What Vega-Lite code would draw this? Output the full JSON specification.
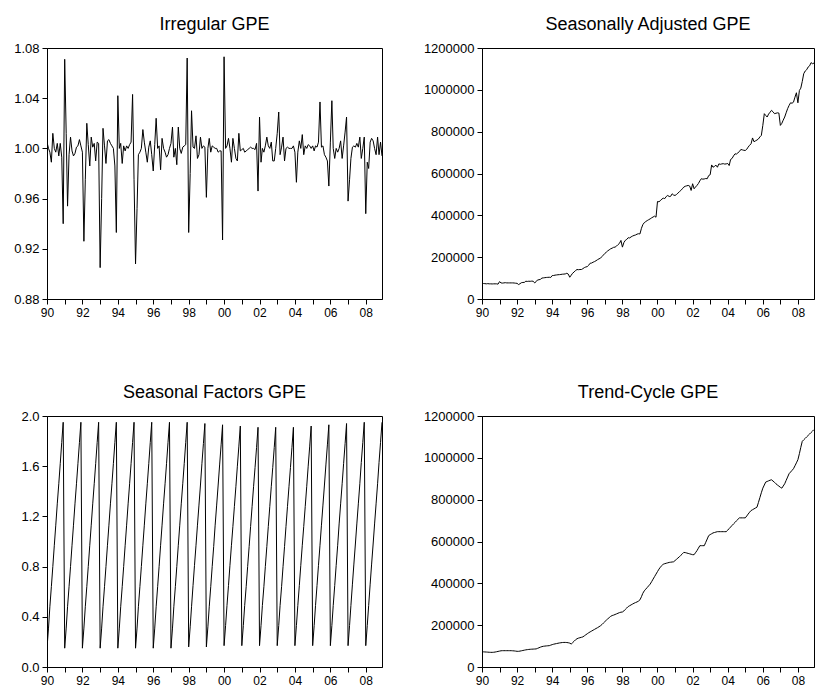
{
"$schema":"https://vega.github.io/schema/vega-lite/v6.json",
"autosize":{"type":"pad"},
"padding":{"left":13,"top":15,"right":0,"bottom":0},
"bounds":"flush",
"columns":2,
"spacing":{"row":117,"column":100},
"config":{
"font":"Liberation Sans",
"view":{"stroke":"black","strokeWidth":1},
"axis":{"grid":false,"domainColor":"black","domainWidth":1,"tickColor":"black","tickWidth":1,"tickSize":5,"labelColor":"black","labelFont":"Liberation Sans","labelFontSize":12,"labelPadding":3,"labelFlush":false,"labelOverlap":false,"title":null},
"axisY":{"labelFontSize":13},
"title":{"font":"Liberation Sans","fontSize":18,"fontWeight":"normal","color":"black","anchor":"middle","frame":"group","offset":8}
},
"data":{"values":[
{"d":"1990-01","i":1.005,"s":75000,"f":0.15,"t":73000},
{"d":"1990-02","i":1.000,"s":74000,"f":0.31,"t":72500},
{"d":"1990-03","i":0.997,"s":73500,"f":0.48,"t":72000},
{"d":"1990-04","i":0.989,"s":72500,"f":0.64,"t":71500},
{"d":"1990-05","i":1.012,"s":73500,"f":0.80,"t":71000},
{"d":"1990-06","i":1.000,"s":72500,"f":0.97,"t":70500},
{"d":"1990-07","i":0.997,"s":72500,"f":1.13,"t":70000},
{"d":"1990-08","i":1.004,"s":72000,"f":1.30,"t":70000},
{"d":"1990-09","i":0.994,"s":72500,"f":1.46,"t":70500},
{"d":"1990-10","i":1.004,"s":72500,"f":1.62,"t":71500},
{"d":"1990-11","i":0.993,"s":72500,"f":1.79,"t":73000},
{"d":"1990-12","i":0.940,"s":71000,"f":1.95,"t":74500},
{"d":"1991-01","i":1.071,"s":83000,"f":0.15,"t":76000},
{"d":"1991-02","i":1.012,"s":77000,"f":0.31,"t":77500},
{"d":"1991-03","i":0.954,"s":76000,"f":0.48,"t":78000},
{"d":"1991-04","i":0.995,"s":77000,"f":0.64,"t":78000},
{"d":"1991-05","i":1.009,"s":78000,"f":0.80,"t":78000},
{"d":"1991-06","i":0.998,"s":77000,"f":0.97,"t":78000},
{"d":"1991-07","i":0.994,"s":77000,"f":1.13,"t":78000},
{"d":"1991-08","i":0.996,"s":77000,"f":1.30,"t":78000},
{"d":"1991-09","i":1.001,"s":77000,"f":1.46,"t":78000},
{"d":"1991-10","i":1.002,"s":77000,"f":1.62,"t":77500},
{"d":"1991-11","i":1.007,"s":76500,"f":1.79,"t":77000},
{"d":"1991-12","i":1.002,"s":75500,"f":1.95,"t":76000},
{"d":"1992-01","i":0.997,"s":75000,"f":0.15,"t":75000},
{"d":"1992-02","i":0.926,"s":69000,"f":0.31,"t":75000},
{"d":"1992-03","i":0.975,"s":73000,"f":0.48,"t":76000},
{"d":"1992-04","i":1.020,"s":78000,"f":0.64,"t":77500},
{"d":"1992-05","i":1.003,"s":79000,"f":0.80,"t":79000},
{"d":"1992-06","i":0.986,"s":79500,"f":0.97,"t":80500},
{"d":"1992-07","i":1.009,"s":85000,"f":1.13,"t":82000},
{"d":"1992-08","i":1.001,"s":84000,"f":1.30,"t":83000},
{"d":"1992-09","i":1.004,"s":85000,"f":1.46,"t":84000},
{"d":"1992-10","i":0.990,"s":84500,"f":1.62,"t":84700},
{"d":"1992-11","i":1.005,"s":85500,"f":1.79,"t":85200},
{"d":"1992-12","i":1.004,"s":85000,"f":1.95,"t":85600},
{"d":"1993-01","i":0.905,"s":77000,"f":0.15,"t":86000},
{"d":"1993-02","i":0.960,"s":83000,"f":0.31,"t":86500},
{"d":"1993-03","i":1.016,"s":91000,"f":0.48,"t":89000},
{"d":"1993-04","i":1.002,"s":92000,"f":0.64,"t":92000},
{"d":"1993-05","i":0.988,"s":94000,"f":0.80,"t":95000},
{"d":"1993-06","i":1.006,"s":100000,"f":0.97,"t":97500},
{"d":"1993-07","i":1.007,"s":101000,"f":1.13,"t":99000},
{"d":"1993-08","i":1.004,"s":102000,"f":1.30,"t":100000},
{"d":"1993-09","i":1.002,"s":103000,"f":1.46,"t":100800},
{"d":"1993-10","i":1.000,"s":103500,"f":1.62,"t":101500},
{"d":"1993-11","i":0.986,"s":104000,"f":1.79,"t":102000},
{"d":"1993-12","i":0.933,"s":103000,"f":1.95,"t":104500},
{"d":"1994-01","i":1.042,"s":112000,"f":0.15,"t":107000},
{"d":"1994-02","i":1.000,"s":112500,"f":0.31,"t":109000},
{"d":"1994-03","i":1.004,"s":114000,"f":0.48,"t":110500},
{"d":"1994-04","i":0.988,"s":115000,"f":0.64,"t":112000},
{"d":"1994-05","i":1.002,"s":116000,"f":0.80,"t":113500},
{"d":"1994-06","i":0.998,"s":116500,"f":0.97,"t":115000},
{"d":"1994-07","i":1.002,"s":117500,"f":1.13,"t":116000},
{"d":"1994-08","i":1.000,"s":118500,"f":1.30,"t":117000},
{"d":"1994-09","i":1.003,"s":119000,"f":1.46,"t":117500},
{"d":"1994-10","i":1.005,"s":120000,"f":1.62,"t":117500},
{"d":"1994-11","i":1.043,"s":123000,"f":1.79,"t":117000},
{"d":"1994-12","i":0.975,"s":119000,"f":1.95,"t":116000},
{"d":"1995-01","i":0.908,"s":104000,"f":0.15,"t":114000},
{"d":"1995-02","i":0.952,"s":114000,"f":0.31,"t":110000},
{"d":"1995-03","i":0.995,"s":123000,"f":0.48,"t":116000},
{"d":"1995-04","i":0.997,"s":129000,"f":0.64,"t":123000},
{"d":"1995-05","i":1.000,"s":136000,"f":0.80,"t":130000},
{"d":"1995-06","i":1.015,"s":141000,"f":0.97,"t":135000},
{"d":"1995-07","i":1.005,"s":140000,"f":1.13,"t":138000},
{"d":"1995-08","i":0.997,"s":141000,"f":1.30,"t":140000},
{"d":"1995-09","i":0.989,"s":141000,"f":1.46,"t":142000},
{"d":"1995-10","i":1.001,"s":145000,"f":1.62,"t":144000},
{"d":"1995-11","i":1.006,"s":150000,"f":1.79,"t":149000},
{"d":"1995-12","i":0.995,"s":153000,"f":1.95,"t":154000},
{"d":"1996-01","i":0.982,"s":155000,"f":0.15,"t":159000},
{"d":"1996-02","i":1.003,"s":162000,"f":0.31,"t":164000},
{"d":"1996-03","i":1.024,"s":171000,"f":0.48,"t":168000},
{"d":"1996-04","i":1.000,"s":172000,"f":0.64,"t":172000},
{"d":"1996-05","i":1.002,"s":176000,"f":0.80,"t":176000},
{"d":"1996-06","i":0.983,"s":179000,"f":0.97,"t":180000},
{"d":"1996-07","i":1.008,"s":183000,"f":1.13,"t":184000},
{"d":"1996-08","i":1.000,"s":188000,"f":1.30,"t":188000},
{"d":"1996-09","i":0.997,"s":192000,"f":1.46,"t":192500},
{"d":"1996-10","i":0.993,"s":195000,"f":1.62,"t":197000},
{"d":"1996-11","i":0.995,"s":203000,"f":1.79,"t":203000},
{"d":"1996-12","i":1.000,"s":210000,"f":1.95,"t":210000},
{"d":"1997-01","i":1.004,"s":218000,"f":0.15,"t":217000},
{"d":"1997-02","i":1.017,"s":224000,"f":0.31,"t":224000},
{"d":"1997-03","i":0.993,"s":230000,"f":0.48,"t":230000},
{"d":"1997-04","i":1.000,"s":235000,"f":0.64,"t":236000},
{"d":"1997-05","i":0.987,"s":240000,"f":0.80,"t":242000},
{"d":"1997-06","i":1.017,"s":243000,"f":0.97,"t":246000},
{"d":"1997-07","i":1.000,"s":247000,"f":1.13,"t":248000},
{"d":"1997-08","i":0.996,"s":248000,"f":1.30,"t":251000},
{"d":"1997-09","i":1.001,"s":253000,"f":1.46,"t":254000},
{"d":"1997-10","i":1.002,"s":260000,"f":1.62,"t":257000},
{"d":"1997-11","i":1.003,"s":266000,"f":1.79,"t":260000},
{"d":"1997-12","i":1.072,"s":280000,"f":1.95,"t":262000},
{"d":"1998-01","i":0.933,"s":248000,"f":0.16,"t":263000},
{"d":"1998-02","i":0.980,"s":270000,"f":0.32,"t":268000},
{"d":"1998-03","i":1.030,"s":280000,"f":0.48,"t":275000},
{"d":"1998-04","i":1.001,"s":285000,"f":0.65,"t":282000},
{"d":"1998-05","i":1.000,"s":293000,"f":0.81,"t":289000},
{"d":"1998-06","i":1.010,"s":292000,"f":0.97,"t":293000},
{"d":"1998-07","i":0.992,"s":297000,"f":1.13,"t":297000},
{"d":"1998-08","i":0.995,"s":301000,"f":1.29,"t":301000},
{"d":"1998-09","i":1.009,"s":304000,"f":1.45,"t":305000},
{"d":"1998-10","i":1.000,"s":306000,"f":1.62,"t":308000},
{"d":"1998-11","i":1.002,"s":310000,"f":1.78,"t":311000},
{"d":"1998-12","i":1.001,"s":312000,"f":1.94,"t":315000},
{"d":"1999-01","i":0.961,"s":311000,"f":0.16,"t":321000},
{"d":"1999-02","i":1.000,"s":338000,"f":0.32,"t":336000},
{"d":"1999-03","i":1.008,"s":355000,"f":0.48,"t":352000},
{"d":"1999-04","i":0.997,"s":365000,"f":0.64,"t":364000},
{"d":"1999-05","i":1.002,"s":370000,"f":0.80,"t":372000},
{"d":"1999-06","i":1.001,"s":375000,"f":0.96,"t":380000},
{"d":"1999-07","i":1.000,"s":379000,"f":1.13,"t":388000},
{"d":"1999-08","i":1.000,"s":383000,"f":1.29,"t":396000},
{"d":"1999-09","i":0.997,"s":388000,"f":1.45,"t":408000},
{"d":"1999-10","i":0.998,"s":392000,"f":1.61,"t":420000},
{"d":"1999-11","i":0.998,"s":396000,"f":1.77,"t":432000},
{"d":"1999-12","i":0.927,"s":391000,"f":1.93,"t":444000},
{"d":"2000-01","i":1.073,"s":466000,"f":0.17,"t":456000},
{"d":"2000-02","i":1.000,"s":465000,"f":0.33,"t":468000},
{"d":"2000-03","i":1.002,"s":470000,"f":0.49,"t":477000},
{"d":"2000-04","i":1.008,"s":478000,"f":0.65,"t":485000},
{"d":"2000-05","i":1.000,"s":482000,"f":0.81,"t":492000},
{"d":"2000-06","i":0.989,"s":480000,"f":0.97,"t":494000},
{"d":"2000-07","i":1.008,"s":490000,"f":1.12,"t":496000},
{"d":"2000-08","i":1.000,"s":495000,"f":1.28,"t":498000},
{"d":"2000-09","i":0.992,"s":490000,"f":1.44,"t":500000},
{"d":"2000-10","i":0.990,"s":491000,"f":1.60,"t":501000},
{"d":"2000-11","i":1.012,"s":503000,"f":1.76,"t":502000},
{"d":"2000-12","i":0.998,"s":497000,"f":1.92,"t":503000},
{"d":"2001-01","i":0.999,"s":495000,"f":0.17,"t":509000},
{"d":"2001-02","i":1.000,"s":500000,"f":0.33,"t":515000},
{"d":"2001-03","i":0.997,"s":506000,"f":0.49,"t":521000},
{"d":"2001-04","i":0.998,"s":513000,"f":0.64,"t":527000},
{"d":"2001-05","i":0.999,"s":519000,"f":0.80,"t":534000},
{"d":"2001-06","i":1.000,"s":527000,"f":0.96,"t":541000},
{"d":"2001-07","i":1.001,"s":535000,"f":1.12,"t":548000},
{"d":"2001-08","i":1.000,"s":539000,"f":1.28,"t":547000},
{"d":"2001-09","i":1.000,"s":541000,"f":1.44,"t":545000},
{"d":"2001-10","i":0.999,"s":543000,"f":1.59,"t":543000},
{"d":"2001-11","i":1.004,"s":540000,"f":1.75,"t":541000},
{"d":"2001-12","i":0.966,"s":519000,"f":1.91,"t":539000},
{"d":"2002-01","i":1.025,"s":551000,"f":0.17,"t":537000},
{"d":"2002-02","i":0.989,"s":527000,"f":0.33,"t":537000},
{"d":"2002-03","i":1.000,"s":535000,"f":0.49,"t":546000},
{"d":"2002-04","i":0.997,"s":543000,"f":0.64,"t":556000},
{"d":"2002-05","i":1.002,"s":552000,"f":0.80,"t":568000},
{"d":"2002-06","i":1.009,"s":565000,"f":0.96,"t":580000},
{"d":"2002-07","i":1.002,"s":575000,"f":1.12,"t":580000},
{"d":"2002-08","i":1.000,"s":573000,"f":1.28,"t":580000},
{"d":"2002-09","i":1.005,"s":574000,"f":1.44,"t":580000},
{"d":"2002-10","i":0.990,"s":576000,"f":1.59,"t":596000},
{"d":"2002-11","i":0.990,"s":575000,"f":1.75,"t":612000},
{"d":"2002-12","i":1.000,"s":590000,"f":1.91,"t":628000},
{"d":"2003-01","i":1.012,"s":594000,"f":0.17,"t":633000},
{"d":"2003-02","i":1.029,"s":641000,"f":0.33,"t":637000},
{"d":"2003-03","i":0.995,"s":630000,"f":0.49,"t":641000},
{"d":"2003-04","i":1.001,"s":634000,"f":0.64,"t":643000},
{"d":"2003-05","i":1.009,"s":640000,"f":0.80,"t":645000},
{"d":"2003-06","i":0.990,"s":630000,"f":0.96,"t":647000},
{"d":"2003-07","i":1.000,"s":646000,"f":1.12,"t":647000},
{"d":"2003-08","i":1.001,"s":644000,"f":1.28,"t":647000},
{"d":"2003-09","i":1.000,"s":646000,"f":1.44,"t":647000},
{"d":"2003-10","i":1.000,"s":647000,"f":1.59,"t":647000},
{"d":"2003-11","i":1.000,"s":645000,"f":1.75,"t":647000},
{"d":"2003-12","i":1.002,"s":646000,"f":1.91,"t":647000},
{"d":"2004-01","i":0.997,"s":648000,"f":0.17,"t":654000},
{"d":"2004-02","i":0.973,"s":638000,"f":0.33,"t":662000},
{"d":"2004-03","i":0.997,"s":667000,"f":0.49,"t":669000},
{"d":"2004-04","i":1.006,"s":672000,"f":0.65,"t":677000},
{"d":"2004-05","i":1.000,"s":684000,"f":0.81,"t":684000},
{"d":"2004-06","i":1.011,"s":694000,"f":0.97,"t":691000},
{"d":"2004-07","i":0.995,"s":693000,"f":1.12,"t":699000},
{"d":"2004-08","i":1.002,"s":699000,"f":1.28,"t":706000},
{"d":"2004-09","i":1.000,"s":705000,"f":1.44,"t":713000},
{"d":"2004-10","i":1.003,"s":715000,"f":1.60,"t":713000},
{"d":"2004-11","i":1.002,"s":713000,"f":1.76,"t":713000},
{"d":"2004-12","i":1.000,"s":711000,"f":1.92,"t":713000},
{"d":"2005-01","i":1.002,"s":710000,"f":0.17,"t":713000},
{"d":"2005-02","i":0.998,"s":716000,"f":0.33,"t":722000},
{"d":"2005-03","i":1.002,"s":726000,"f":0.49,"t":731000},
{"d":"2005-04","i":1.001,"s":735000,"f":0.65,"t":740000},
{"d":"2005-05","i":1.005,"s":742000,"f":0.81,"t":748000},
{"d":"2005-06","i":1.037,"s":770000,"f":0.97,"t":752000},
{"d":"2005-07","i":1.001,"s":752000,"f":1.13,"t":756000},
{"d":"2005-08","i":1.002,"s":756000,"f":1.29,"t":760000},
{"d":"2005-09","i":0.995,"s":760000,"f":1.45,"t":764000},
{"d":"2005-10","i":0.993,"s":765000,"f":1.61,"t":786000},
{"d":"2005-11","i":0.990,"s":775000,"f":1.77,"t":810000},
{"d":"2005-12","i":0.970,"s":782000,"f":1.93,"t":833000},
{"d":"2006-01","i":1.005,"s":830000,"f":0.17,"t":855000},
{"d":"2006-02","i":1.038,"s":886000,"f":0.33,"t":870000},
{"d":"2006-03","i":1.000,"s":878000,"f":0.49,"t":884000},
{"d":"2006-04","i":0.992,"s":870000,"f":0.65,"t":887000},
{"d":"2006-05","i":1.000,"s":884000,"f":0.81,"t":890000},
{"d":"2006-06","i":0.997,"s":893000,"f":0.97,"t":893000},
{"d":"2006-07","i":1.000,"s":902000,"f":1.14,"t":895000},
{"d":"2006-08","i":1.006,"s":895000,"f":1.30,"t":889000},
{"d":"2006-09","i":0.992,"s":886000,"f":1.46,"t":883000},
{"d":"2006-10","i":1.002,"s":888000,"f":1.62,"t":876000},
{"d":"2006-11","i":1.013,"s":890000,"f":1.78,"t":870000},
{"d":"2006-12","i":1.025,"s":889000,"f":1.94,"t":865000},
{"d":"2007-01","i":0.958,"s":830000,"f":0.17,"t":859000},
{"d":"2007-02","i":0.975,"s":840000,"f":0.33,"t":855000},
{"d":"2007-03","i":0.992,"s":855000,"f":0.49,"t":865000},
{"d":"2007-04","i":1.001,"s":870000,"f":0.66,"t":876000},
{"d":"2007-05","i":1.002,"s":890000,"f":0.82,"t":892000},
{"d":"2007-06","i":1.001,"s":910000,"f":0.98,"t":908000},
{"d":"2007-07","i":1.004,"s":925000,"f":1.14,"t":924000},
{"d":"2007-08","i":1.001,"s":938000,"f":1.30,"t":932000},
{"d":"2007-09","i":1.009,"s":936000,"f":1.46,"t":940000},
{"d":"2007-10","i":0.992,"s":941000,"f":1.63,"t":948000},
{"d":"2007-11","i":1.000,"s":965000,"f":1.79,"t":962000},
{"d":"2007-12","i":1.009,"s":986000,"f":1.95,"t":976000},
{"d":"2008-01","i":0.948,"s":938000,"f":0.17,"t":991000},
{"d":"2008-02","i":0.989,"s":997000,"f":0.33,"t":1020000},
{"d":"2008-03","i":0.984,"s":1008000,"f":0.49,"t":1050000},
{"d":"2008-04","i":1.005,"s":1040000,"f":0.66,"t":1079000},
{"d":"2008-05","i":1.008,"s":1077000,"f":0.82,"t":1086000},
{"d":"2008-06","i":1.006,"s":1090000,"f":0.98,"t":1093000},
{"d":"2008-07","i":1.000,"s":1096000,"f":1.14,"t":1100000},
{"d":"2008-08","i":0.995,"s":1109000,"f":1.30,"t":1107000},
{"d":"2008-09","i":1.009,"s":1115000,"f":1.46,"t":1114000},
{"d":"2008-10","i":0.995,"s":1130000,"f":1.63,"t":1121000},
{"d":"2008-11","i":1.005,"s":1125000,"f":1.79,"t":1128000},
{"d":"2008-12","i":0.994,"s":1128000,"f":1.95,"t":1135000}
]},
"concat":[
{"title":"Irregular GPE","width":335,"height":251,
 "mark":{"type":"line","color":"black","strokeWidth":1,"clip":true},
 "encoding":{
  "x":{"field":"d","type":"temporal","scale":{"type":"utc","nice":false},"axis":{"tickCount":{"interval":"year","step":1},"labelExpr":"utcyear(datum.value) % 2 == 0 ? utcFormat(datum.value, '%y') : ''"}},
  "y":{"field":"i","type":"quantitative","scale":{"domain":[0.88,1.08],"nice":false,"zero":false},"axis":{"values":[0.88,0.92,0.96,1.0,1.04,1.08],"format":".2f"}}
 }},
{"title":"Seasonally Adjusted GPE","width":332,"height":251,
 "mark":{"type":"line","color":"black","strokeWidth":1,"clip":true},
 "encoding":{
  "x":{"field":"d","type":"temporal","scale":{"type":"utc","nice":false},"axis":{"tickCount":{"interval":"year","step":1},"labelExpr":"utcyear(datum.value) % 2 == 0 ? utcFormat(datum.value, '%y') : ''"}},
  "y":{"field":"s","type":"quantitative","scale":{"domain":[0,1200000],"nice":false},"axis":{"values":[0,200000,400000,600000,800000,1000000,1200000],"format":"d"}}
 }},
{"title":"Seasonal Factors GPE","width":335,"height":251,
 "mark":{"type":"line","color":"black","strokeWidth":1,"clip":true},
 "encoding":{
  "x":{"field":"d","type":"temporal","scale":{"type":"utc","nice":false},"axis":{"tickCount":{"interval":"year","step":1},"labelExpr":"utcyear(datum.value) % 2 == 0 ? utcFormat(datum.value, '%y') : ''"}},
  "y":{"field":"f","type":"quantitative","scale":{"domain":[0,2],"nice":false},"axis":{"values":[0,0.4,0.8,1.2,1.6,2.0],"format":".1f"}}
 }},
{"title":"Trend-Cycle GPE","width":332,"height":251,
 "mark":{"type":"line","color":"black","strokeWidth":1,"clip":true},
 "encoding":{
  "x":{"field":"d","type":"temporal","scale":{"type":"utc","nice":false},"axis":{"tickCount":{"interval":"year","step":1},"labelExpr":"utcyear(datum.value) % 2 == 0 ? utcFormat(datum.value, '%y') : ''"}},
  "y":{"field":"t","type":"quantitative","scale":{"domain":[0,1200000],"nice":false},"axis":{"values":[0,200000,400000,600000,800000,1000000,1200000],"format":"d"}}
 }}
]
}
